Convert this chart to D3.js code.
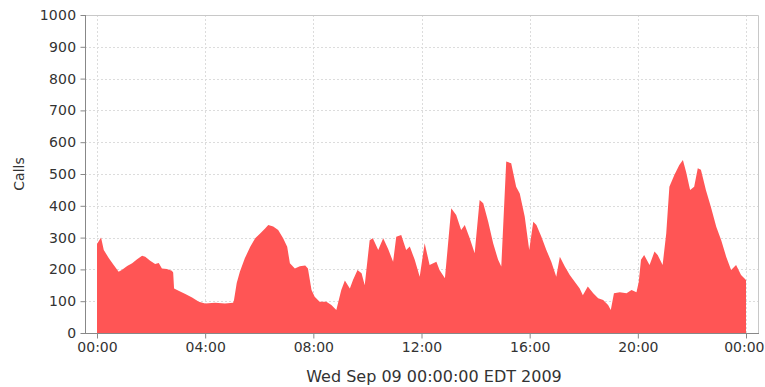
<!DOCTYPE html>
<html>
<head>
<meta charset="utf-8">
<script src="https://cdn.jsdelivr.net/npm/d3@7"></script>
<style>
  html, body { margin: 0; padding: 0; background: #fff; }
  svg { display: block; font-family: "DejaVu Sans", Verdana, sans-serif; }
</style>
</head>
<body>
<svg id="chart" width="765" height="387"></svg>
<script>
// ---- data (minutes after midnight, calls) ----
const minutes = [0, 9, 15, 26, 37, 48, 55, 67, 78, 89, 100, 107, 118, 129, 137, 144, 155, 166, 169, 171,
  181, 196, 211, 226, 240, 262, 284, 302, 304, 310, 317, 328, 340, 351, 362, 373, 380, 391, 402, 413,
  422, 428, 439, 450, 462, 468, 476, 483, 494, 509, 520, 531, 542, 550, 561, 568, 578, 587, 594, 605,
  612, 624, 635, 646, 657, 664, 675, 686, 694, 705, 716, 727, 738, 753, 760, 772, 786, 797, 808, 816,
  827, 838, 849, 857, 868, 879, 890, 897, 908, 919, 930, 938, 949, 959, 968, 975, 986, 997, 1008, 1019,
  1027, 1038, 1049, 1060, 1071, 1078, 1089, 1101, 1112, 1123, 1134, 1140, 1147, 1160, 1175, 1186, 1197, 1202, 1207, 1214,
  1226, 1237, 1244, 1255, 1263, 1270, 1281, 1292, 1300, 1307, 1316, 1325, 1333, 1340, 1351, 1362, 1374, 1385, 1396, 1407,
  1418, 1429, 1440];
const calls = [280, 300, 261, 236, 214, 193, 198, 211, 219, 232, 243, 240, 227, 217, 220, 203, 201, 196, 190, 140,
  133, 123, 112, 98, 93, 95, 93, 95, 104, 157, 193, 235, 271, 298, 313, 329, 340, 335, 324, 298,
  271, 219, 203, 210, 212, 203, 135, 114, 98, 98, 88, 72, 135, 165, 140, 167, 198, 188, 150, 292,
  298, 261, 298, 264, 224, 303, 308, 261, 272, 230, 177, 282, 214, 224, 198, 172, 392, 371, 324, 340,
  298, 251, 418, 408, 350, 282, 230, 209, 539, 534, 460, 439, 366, 261, 350, 340, 303, 261, 224, 177,
  240, 209, 182, 161, 140, 119, 146, 125, 109, 104, 88, 72, 125, 128, 125, 135, 128, 160, 230, 245,
  214, 256, 245, 214, 313, 460, 497, 528, 544, 507, 450, 460, 518, 513, 450, 397, 334, 292, 240, 198,
  214, 182, 167];
const yTicks = [0, 100, 200, 300, 400, 500, 600, 700, 800, 900, 1000];
const xTickMinutes = [0, 240, 480, 720, 960, 1200, 1440];
const xTickLabels = ["00:00", "04:00", "08:00", "12:00", "16:00", "20:00", "00:00"];
const yTitle = "Calls";
const xTitle = "Wed Sep 09 00:00:00 EDT 2009";

const data = minutes.map((m, i) => ({ m, v: calls[i] }));

const svg = d3.select("#chart");
const plotL = 85, plotR = 758, plotT = 15, plotB = 333;

const x = d3.scaleLinear().domain([0, 1440]).range([97, 746]);
const y = d3.scaleLinear().domain([0, 1000]).range([plotB, plotT]);

// gridlines
svg.append("g").selectAll("line").data(yTicks.filter(d => d > 0 && d < 1000)).join("line")
  .attr("x1", plotL).attr("x2", plotR)
  .attr("y1", d => Math.round(y(d)) + 0.5).attr("y2", d => Math.round(y(d)) + 0.5)
  .attr("stroke", "#dcdcdc").attr("stroke-dasharray", "2,2");
svg.append("g").selectAll("line").data(xTickMinutes).join("line")
  .attr("x1", d => Math.round(x(d)) + 0.5).attr("x2", d => Math.round(x(d)) + 0.5)
  .attr("y1", plotT).attr("y2", plotB)
  .attr("stroke", "#dcdcdc").attr("stroke-dasharray", "2,2");

// area
const area = d3.area().x(d => x(d.m)).y0(y(0)).y1(d => y(d.v));
svg.append("path").datum(data).attr("d", area).attr("fill", "#ff5555");

// plot border (top/right)
svg.append("path")
  .attr("d", `M${plotL},${plotT + 0.5}H${plotR + 0.5}V${plotB}`)
  .attr("fill", "none").attr("stroke", "#c8c8c8");

// axes
const yAxis = d3.axisLeft(y).tickValues(yTicks).tickFormat(d3.format("d")).tickSize(5).tickPadding(4);
const gy = svg.append("g").attr("transform", `translate(${plotL + 0.5},0)`).call(yAxis);
gy.select(".domain").attr("stroke", "#888").attr("d", `M0,${plotT}V${plotB}`);
gy.selectAll(".tick line").attr("stroke", "#888");
gy.selectAll("text").attr("fill", "#333").attr("font-size", 14)
  .attr("font-family", "DejaVu Sans, sans-serif").attr("letter-spacing", "0.3");

const xAxis = d3.axisBottom(x).tickValues(xTickMinutes)
  .tickFormat((d, i) => xTickLabels[i]).tickSize(5).tickPadding(4);
const gx = svg.append("g").attr("transform", `translate(0,${plotB + 0.5})`).call(xAxis);
gx.select(".domain").attr("stroke", "#888").attr("d", `M${plotL},0H${plotR + 1}`);
gx.selectAll(".tick line").attr("stroke", "#888");
gx.selectAll("text").attr("fill", "#333").attr("font-size", 14)
  .attr("font-family", "DejaVu Sans, sans-serif");
// keep the last label inside the window
gx.selectAll(".tick").filter((d, i) => i === xTickMinutes.length - 1)
  .select("text").attr("text-anchor", "end").attr("x", 18);

// titles
svg.append("text").attr("transform", `translate(24,${(plotT + plotB) / 2}) rotate(-90)`)
  .attr("text-anchor", "middle").attr("font-size", 14).attr("fill", "#333").text(yTitle);
svg.append("text").attr("x", 434).attr("y", 382)
  .attr("text-anchor", "middle").attr("font-size", 16).attr("fill", "#333").text(xTitle);
</script>
</body>
</html>
